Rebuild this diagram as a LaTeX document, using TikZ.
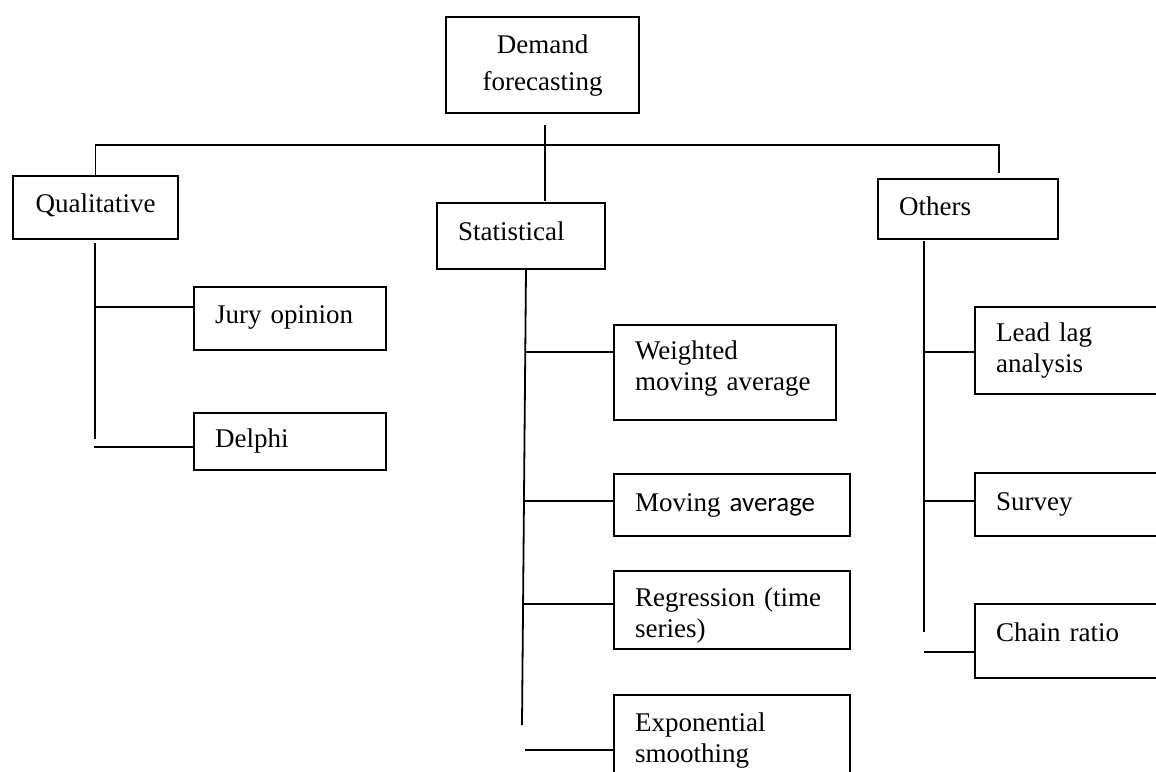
\documentclass[tikz,border=0pt]{standalone}
\usepackage{fontspec}
\setmainfont{Liberation Serif}
\newfontfamily\calib{Carlito}
\begin{document}
\begin{tikzpicture}[x=1pt,y=-1pt,
  box/.style={draw, line width=2.1pt, inner sep=0pt, anchor=north west,
              font=\fontsize{27}{31}\selectfont},
  lbox/.style={box, align=left, inner xsep=21pt},
  ln/.style={line width=1.8pt},
  busln/.style={line width=1.6pt}]
\useasboundingbox (0,0) rectangle (1156,771);

% top
\node[box, align=center, minimum width=193pt, minimum height=96pt,
      font=\fontsize{27}{37}\selectfont] (dem) at (445,16) {Demand\\forecasting};

% level 1
\node[box, align=center, minimum width=165pt, minimum height=63pt] (qual) at (12,175) {\raisebox{8pt}{Qualitative}};
\node[lbox, text width=126pt, minimum height=66pt] (stat) at (436,202) {\raisebox{10pt}{Statistical}};
\node[lbox, text width=138pt, minimum height=60pt] (oth) at (877,178) {\raisebox{6pt}{Others}};

% qualitative children
\node[lbox, text width=150pt, minimum height=63pt] (jury) at (193,286) {\raisebox{8pt}{Jury opinion}};
\node[lbox, text width=150pt, minimum height=57pt] (delphi) at (193,412) {\raisebox{6pt}{Delphi}};

% statistical children
\node[lbox, text width=180pt, minimum height=95pt] (wma) at (613,324) {Weighted\\moving average\rule[-14pt]{0pt}{1pt}};
\node[lbox, text width=194pt, minimum height=62pt] (ma) at (613,473) {Moving {\calib average}};
\node[lbox, text width=194pt, minimum height=78pt] (reg) at (613,570) {\rule{0pt}{30.5pt}Regression (time\\series)};
\node[lbox, text width=194pt, minimum height=90pt] (exp) at (613,694) {Exponential\\smoothing};

% others children
\node[lbox, text width=184pt, minimum height=87pt] (lead) at (974,306) {Lead lag\\analysis};
\node[lbox, text width=184pt, minimum height=63pt] (surv) at (974,472) {\raisebox{6pt}{Survey}};
\node[lbox, text width=184pt, minimum height=74pt] (chain) at (974,603) {\raisebox{18pt}{Chain ratio}};

% bus
\coordinate (busR) at (999,145);
\coordinate (othtop) at (999,173);
\draw[ln] (dem.south) ++(2.5,11) -- ++(0,76);
\draw[busln] (qual.north) |- (busR) -- (othtop);

% qualitative spine
\draw[ln] (qual.south) ++(-0.5,3) -- ++(0,196);
\draw[ln] ([yshift=11.5pt]jury.west) -- ++(-99,0);
\draw[ln] ([yshift=-5.5pt]delphi.west) -- ++(-99,0);

% statistical spine
\coordinate (ss1) at (526,269);
\coordinate (ss2) at (522,725);
\draw[ln] (ss1) -- (ss2);
\draw[ln] ([yshift=20.5pt]wma.west) -- ++(-87.7,0);
\draw[ln] ([yshift=4pt]ma.west) -- ++(-89,0);
\draw[ln] ([yshift=6pt]reg.west) -- ++(-90,0);
\draw[ln] ([yshift=-10pt]exp.west) -- ++(-88,0);

% others spine
\coordinate (os1) at (924,241);
\coordinate (os2) at (924,632);
\draw[ln] (os1) -- (os2);
\draw[ln] ([yshift=-1.5pt]lead.west) -- ++(-50,0);
\draw[ln] ([yshift=3.5pt]surv.west) -- ++(-50,0);
\draw[ln] ([yshift=-11pt]chain.west) -- ++(-50,0);
\end{tikzpicture}
\end{document}
